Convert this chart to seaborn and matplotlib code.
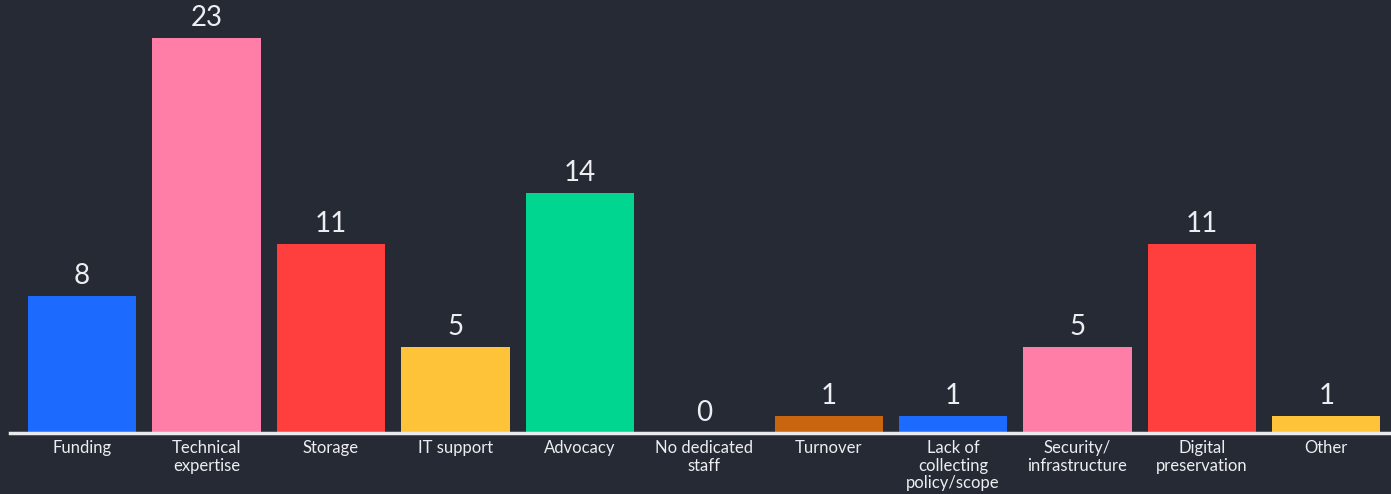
import matplotlib
matplotlib.use("Agg")
import matplotlib.pyplot as plt
import seaborn as sns
import pandas as pd

# Survey responses: biggest barriers
categories = [
    "Funding", "Technical\nexpertise", "Storage", "IT support", "Advocacy",
    "No dedicated\nstaff", "Turnover", "Lack of\ncollecting\npolicy/scope",
    "Security/\ninfrastructure", "Digital\npreservation", "Other",
]
counts = [8, 23, 11, 5, 14, 0, 1, 1, 5, 11, 1]
bar_colors = [
    "#1c6bfe", "#ff7ea8", "#ff3f3d", "#ffc33a", "#00d68f",
    "#8a8fa0", "#c9650f", "#1c6bfe", "#ff7ea8", "#ff3f3d", "#ffc33a",
]

BG = "#262a35"
FG = "#eceef1"

df = pd.DataFrame({"category": categories, "count": counts})

sns.set_theme(style="white")
plt.rcParams["font.family"] = ["Lato", "DejaVu Sans"]

fig = plt.figure(figsize=(13.91, 4.94), dpi=100, facecolor=BG)
ax = fig.add_axes([10 / 1391, 61 / 494, 1381 / 1391, 429 / 494])
ax.set_facecolor(BG)

sns.barplot(
    data=df, x="category", y="count", hue="category",
    palette=bar_colors, legend=False, width=0.87, saturation=1,
    linewidth=0, edgecolor="none", ax=ax,
)

for container in ax.containers:
    ax.bar_label(container, padding=5, fontsize=20, color=FG)

ax.set_xlim(-0.58, 10.52)
ax.set_ylim(0, 25)
ax.set_xlabel("")
ax.set_ylabel("")
ax.set_yticks([])
ax.tick_params(axis="x", length=0, pad=5, labelsize=12, labelcolor=FG)
for lbl in ax.get_xticklabels():
    lbl.set_linespacing(1.12)

for side in ["top", "left", "right"]:
    ax.spines[side].set_visible(False)
ax.spines["bottom"].set_color("#e9eaed")
ax.spines["bottom"].set_linewidth(2.5)

fig.savefig("out.png", dpi=100, facecolor=BG)
